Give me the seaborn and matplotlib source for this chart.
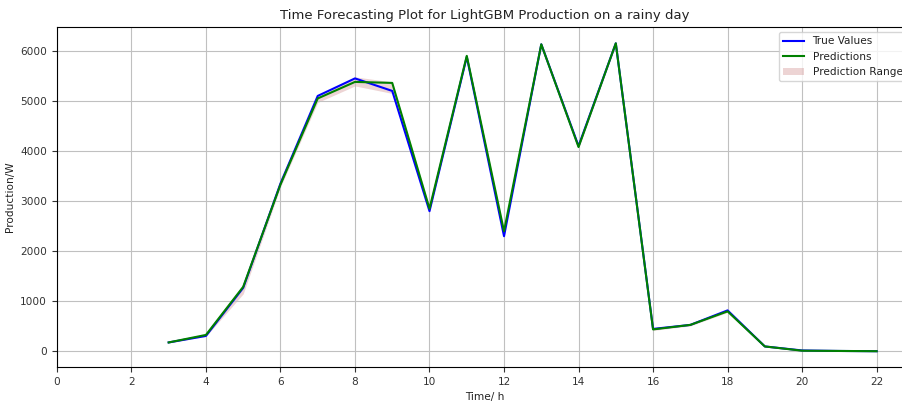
import numpy as np
import pandas as pd
import matplotlib
matplotlib.use("Agg")
import matplotlib.pyplot as plt
import seaborn as sns

# Hours of the day and production values
hours = [3, 4, 5, 6, 7, 8, 9, 10, 11, 12, 13, 14, 15, 16, 17, 18, 19, 20, 21, 22]
true_values = [180, 310, 1270, 3350, 5100, 5450, 5200, 2800, 5880, 2300,
               6130, 4100, 6150, 450, 530, 820, 100, 20, 10, 5]
predictions = [180, 330, 1290, 3330, 5050, 5380, 5360, 2850, 5900, 2400,
               6130, 4080, 6150, 440, 530, 800, 100, 15, 10, 5]
pred_lower = [170, 300, 1150, 3280, 4970, 5300, 5150, 2780, 5860, 2330,
              6100, 4050, 6120, 420, 510, 780, 90, 10, 5, 0]
pred_upper = [200, 350, 1310, 3450, 5080, 5480, 5380, 2880, 5930, 2420,
              6160, 4120, 6170, 460, 550, 830, 110, 25, 15, 10]

df = pd.DataFrame({"hour": hours, "true": true_values, "pred": predictions,
                   "low": pred_lower, "high": pred_upper})

plt.rcParams["text.color"] = "#222222"
plt.rcParams["axes.labelcolor"] = "#222222"
plt.rcParams["xtick.color"] = "#333333"
plt.rcParams["ytick.color"] = "#333333"

fig = plt.figure(figsize=(9.03, 4.01), dpi=100)
ax = fig.add_axes([0.063, 0.085, 0.947, 0.848])

sns.lineplot(data=df, x="hour", y="true", color="blue", linewidth=1.5,
             label="True Values", ax=ax)
sns.lineplot(data=df, x="hour", y="pred", color="green", linewidth=1.5,
             label="Predictions", ax=ax)
ax.fill_between(df["hour"], df["low"], df["high"], color="brown", alpha=0.2,
                label="Prediction Range", linewidth=0)

ax.set_xlim(0, 22.95)
ax.set_xticks(range(0, 23, 2))
ax.set_title("Time Forecasting Plot for LightGBM Production on a rainy day", fontsize=9.5)
ax.set_xlabel("Time/ h", fontsize=7.6)
ax.set_ylabel("Production/W", fontsize=7.6)
ax.tick_params(labelsize=7.6)
ax.grid(True, color="#c0c0c0", linewidth=0.8)
ax.legend(loc="upper right", fontsize=7.6)

fig.savefig("out.png", dpi=100)
